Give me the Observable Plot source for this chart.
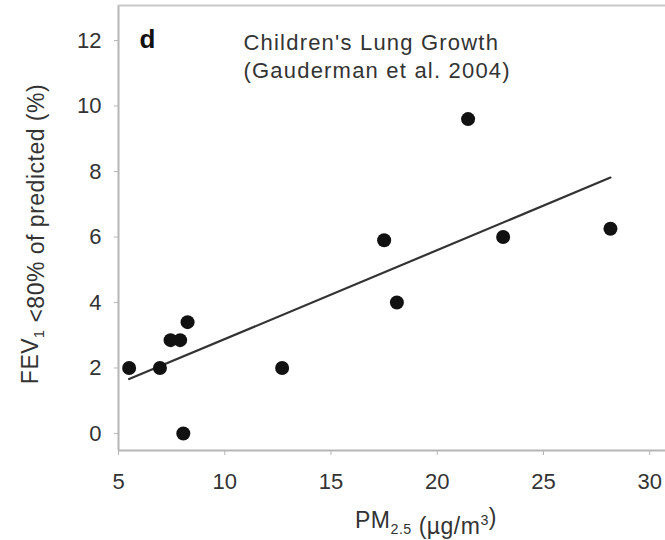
<!DOCTYPE html>
<html>
<head>
<meta charset="utf-8">
<script src="https://cdn.jsdelivr.net/npm/d3@7"></script>
<script src="https://cdn.jsdelivr.net/npm/@observablehq/plot@0.6"></script>
<style>
  html, body { margin: 0; padding: 0; background: #fff; }
</style>
</head>
<body>
<div id="chart"></div>
<script>
// PM2.5 (µg/m³) by community
const pm25 = [5.5, 6.95, 7.45, 7.9, 8.25, 8.05, 12.7, 17.5, 18.1, 21.45, 23.1, 28.15];
// FEV1 < 80% of predicted (%)
const fevLow = [2.0, 2.0, 2.85, 2.85, 3.4, 0.0, 2.0, 5.9, 4.0, 9.6, 6.0, 6.25];

const xTicks = [5, 10, 15, 20, 25, 30];
const yTicks = [0, 2, 4, 6, 8, 10, 12];

const panelLetter = "d";
const titleLines = ["Children's Lung Growth", "(Gauderman et al. 2004)"];
const xLabel = "PM2.5 (µg/m3)";
const yLabel = "FEV1 <80% of predicted (%)";

const data = pm25.map((x, i) => ({x, y: fevLow[i]}));

const xDomain = [5, 30.74];
const yDomain = [-0.52, 13.07];
const axisGray = "#b5b5b5";
const textColor = "#333";

const chart = Plot.plot({
  width: 665,
  height: 540,
  marginLeft: 118,
  marginRight: 0,
  marginTop: 5,
  marginBottom: 90,
  style: {fontFamily: "'Liberation Sans', Arial, sans-serif", fontSize: "22px", background: "#fff", color: textColor},
  x: {domain: xDomain},
  y: {domain: yDomain},
  marks: [
    Plot.axisX({ticks: xTicks, tickSize: 5, tickPadding: 18, stroke: axisGray, fill: textColor, label: null, fontSize: 22}),
    Plot.axisY({ticks: yTicks, tickSize: 4, tickPadding: 13, stroke: axisGray, fill: textColor, label: null, fontSize: 22}),
    Plot.ruleX([xDomain[0]], {stroke: axisGray, strokeWidth: 2}),
    Plot.ruleY([yDomain[0]], {stroke: axisGray, strokeWidth: 2}),
    Plot.ruleY([yDomain[1]], {stroke: "#c8c8c8", strokeWidth: 2}),
    Plot.linearRegressionY(data, {x: "x", y: "y", ci: 0, stroke: "#333", strokeWidth: 2.2}),
    Plot.dot(data, {x: "x", y: "y", r: 7, fill: "#111", stroke: "none"}),
    Plot.text([panelLetter], {text: d => d, frameAnchor: "top-left", dx: 21, dy: 24, lineAnchor: "top", textAnchor: "start", fontWeight: "bold", fontSize: 26, fill: "#111"}),
    Plot.text([titleLines.join("\n")], {text: d => d, frameAnchor: "top-left", dx: 125, dy: 25, lineAnchor: "top", textAnchor: "start", fontSize: 22, lineHeight: 1.27, fill: textColor}),
    Plot.text([yLabel], {text: d => d, frameAnchor: "left", dx: -88, dy: 6, rotate: -90, textAnchor: "middle", lineAnchor: "middle", fontSize: 23, fill: textColor}),
    Plot.text([xLabel], {text: d => d, frameAnchor: "bottom", dx: 34, dy: 70, textAnchor: "middle", lineAnchor: "middle", fontSize: 23, fill: textColor})
  ]
});

document.getElementById("chart").appendChild(chart);

const svgEl = chart.tagName.toLowerCase() === "svg" ? chart : chart.querySelector("svg");

// Letter spacing for the title lines
svgEl.querySelectorAll("text").forEach(el => {
  if (el.textContent === titleLines.join("")) el.style.letterSpacing = "1.2px";
});

// Rich text: subscripts / superscripts in the axis labels
function richen(svg, plain, parts, fs, spacing) {
  svg.querySelectorAll("text").forEach(el => {
    if (el.textContent !== plain) return;
    const sel = d3.select(el);
    sel.text(null).style("letter-spacing", spacing + "px");
    parts.forEach(p => {
      if (p.sub) {
        sel.append("tspan").attr("font-size", fs * 0.62).attr("dy", fs * 0.28).text(p.t);
        sel.append("tspan").attr("dy", -fs * 0.28).text("");
      } else if (p.sup) {
        sel.append("tspan").attr("font-size", fs * 0.62).attr("dy", -fs * 0.42).text(p.t);
        sel.append("tspan").attr("dy", fs * 0.42).text("");
      } else {
        sel.append("tspan").text(p.t);
      }
    });
  });
}
richen(svgEl, yLabel, [{t: "FEV"}, {t: "1", sub: true}, {t: " <80% of predicted (%)"}], 23, 0.5);
richen(svgEl, xLabel, [{t: "PM"}, {t: "2.5", sub: true}, {t: " (µg/m"}, {t: "3", sup: true}, {t: ")"}], 23, 0.5);
</script>
</body>
</html>
